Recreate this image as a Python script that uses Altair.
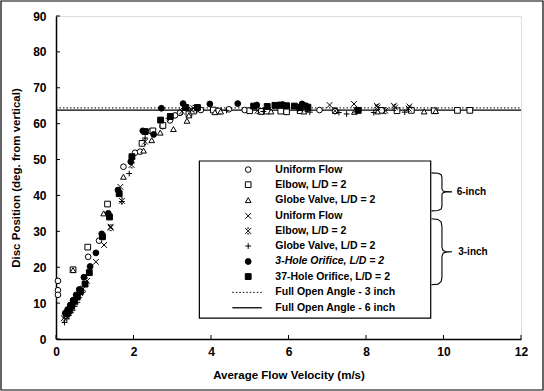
import altair as alt
import pandas as pd

# ---------------- data ----------------
u6_x = [0.05, 0.05, 0.05, 0.83, 1.11, 1.74, 2.04, 2.17, 2.45, 2.75, 2.94, 3.07, 3.2, 3.6, 3.74, 4.46, 4.87, 5.35, 5.9, 6.4, 6.8, 7.2]
u6_y = [16.2, 13.6, 12.3, 22.9, 27.4, 48.0, 51.9, 52.2, 57.9, 59.3, 60.9, 62.3, 63.0, 63.8, 63.8, 64.0, 63.8, 63.6, 63.6, 63.7, 63.8, 63.5]

e6_x = [0.44, 0.82, 1.33, 2.22, 2.5, 2.76, 3.43, 3.55, 4.06, 4.2, 5.0, 5.3, 5.45, 5.8, 5.95, 6.3, 8.4, 8.8, 9.17, 9.76, 10.36, 10.68]
e6_y = [19.3, 25.6, 37.6, 54.5, 58.0, 59.5, 62.7, 63.5, 63.8, 63.5, 63.6, 63.4, 63.5, 63.5, 63.3, 63.6, 63.7, 63.6, 63.7, 63.6, 63.7, 63.7]

g6_x = [0.44, 1.23, 1.74, 2.26, 2.47, 2.69, 3.03, 3.38, 3.43, 4.1, 4.25, 5.55, 6.4, 7.7, 8.3, 9.5, 9.8]
g6_y = [19.2, 35.0, 45.2, 52.5, 55.4, 57.5, 58.5, 60.8, 62.3, 63.2, 63.4, 63.4, 63.4, 63.3, 63.4, 63.4, 63.5]

u3_x = [1.03, 1.24, 1.41, 1.66, 1.95, 2.95, 3.5, 6.3, 7.06, 7.69, 8.28, 8.72, 9.12]
u3_y = [21.5, 26.2, 31.3, 42.4, 49.8, 61.8, 63.8, 64.0, 65.2, 65.5, 65.0, 65.0, 64.8]

e3_x = [0.2, 0.25, 0.3, 0.35, 0.4, 0.45, 0.5, 0.55, 0.62, 0.7, 0.8, 1.41, 1.7, 1.95, 2.3, 3.25, 3.55, 5.2, 6.5, 7.2, 7.75, 8.3, 8.5, 8.75, 9.1]
e3_y = [5.8, 6.5, 7.3, 8.2, 9.0, 9.8, 10.8, 11.6, 12.8, 14.0, 16.2, 31.0, 38.5, 48.5, 55.0, 63.4, 64.3, 63.6, 64.2, 63.6, 63.8, 64.5, 63.6, 64.5, 64.2]

g3_x = [0.22, 0.28, 0.33, 0.38, 0.43, 0.48, 0.55, 0.6, 0.68, 1.7, 1.89, 2.3, 2.9, 4.4, 5.35, 6.55, 7.3, 7.5, 8.2, 9.0]
g3_y = [4.6, 5.6, 6.5, 7.3, 8.0, 9.1, 10.2, 11.5, 13.0, 38.3, 46.1, 56.0, 61.5, 63.7, 63.4, 63.2, 63.1, 62.7, 63.1, 63.2]

h3_x = [0.24, 0.3, 0.37, 0.44, 0.52, 0.6, 0.72, 0.88, 1.03, 1.18, 1.35, 1.6, 1.93, 2.24, 2.52, 2.72, 3.28, 3.97, 4.69, 5.18, 5.85, 6.35, 6.45]
h3_y = [7.2, 8.2, 9.5, 10.8, 12.3, 13.8, 17.2, 20.2, 24.0, 29.3, 35.0, 41.5, 49.4, 58.0, 57.0, 64.3, 65.6, 65.5, 65.6, 65.2, 65.3, 65.5, 65.0]

h37_x = [0.27, 0.32, 0.4, 0.47, 0.55, 0.63, 0.75, 0.86, 1.2, 1.38, 1.63, 1.96, 2.3, 2.7, 2.95, 3.35, 3.65, 5.1, 5.45, 5.65, 5.8, 5.95, 6.15, 6.3, 6.5, 7.8]
h37_y = [7.0, 7.8, 9.2, 10.5, 11.8, 13.2, 15.3, 18.5, 28.5, 34.0, 40.5, 50.8, 57.8, 61.0, 62.0, 64.5, 64.5, 64.9, 64.8, 65.1, 65.2, 65.0, 64.9, 64.5, 64.6, 63.7]

series_keys = ["U6", "E6", "G6", "U3", "E3", "G3", "H3", "H37"]
series_x = [u6_x, e6_x, g6_x, u3_x, e3_x, g3_x, h3_x, h37_x]
series_y = [u6_y, e6_y, g6_y, u3_y, e3_y, g3_y, h3_y, h37_y]

legend_labels = ["Uniform Flow", "Elbow, L/D = 2", "Globe Valve, L/D = 2",
                 "Uniform Flow", "Elbow, L/D = 2", "Globe Valve, L/D = 2",
                 "3-Hole Orifice, L/D = 2", "37-Hole Orifice, L/D = 2",
                 "Full Open Angle - 3 inch", "Full Open Angle - 6 inch"]
legend_rows_y = [47.2, 43.0, 38.7, 34.3, 30.1, 25.9, 21.6, 17.4, 13.0, 8.7]

full_open_3in = 64.4
full_open_6in = 63.8

x_ticks = [0, 2, 4, 6, 8, 10, 12]
y_ticks = [0, 10, 20, 30, 40, 50, 60, 70, 80, 90]

# ---------------- tables ----------------
rows = []
for k, xs_, ys_ in zip(series_keys, series_x, series_y):
    for a, b in zip(xs_, ys_):
        rows.append({"series": k, "x": a, "y": b})
pts = pd.DataFrame(rows)

leg = pd.DataFrame({"series": series_keys, "y": legend_rows_y[:8], "x": [4.96] * 8})
leg_text = pd.DataFrame({"label": legend_labels, "y": legend_rows_y, "x": [5.66] * 10,
                         "italic": [False] * 6 + [True] + [False] * 3})

X_PATH = "M-1,-1L1,1M1,-1L-1,1"
XBAR_PATH = "M-1,-1L1,1M1,-1L-1,1M-0.35,-1L0.35,-1M-0.35,1L0.35,1"
PLUS_PATH = "M-1,0L1,0M0,-1L0,1"

shape_scale = alt.Scale(domain=series_keys,
                        range=["circle", "square", "triangle-up", X_PATH, XBAR_PATH, PLUS_PATH, "circle", "square"])
fill_scale = alt.Scale(domain=series_keys,
                       range=["white", "white", "white", "black", "black", "black", "black", "black"])
size_scale = alt.Scale(domain=series_keys, range=[32, 34, 28, 26, 30, 30, 36, 30])

W, H = 465, 323
xs = alt.Scale(domain=[0, 12], nice=False, zero=False)
ys = alt.Scale(domain=[0, 90], nice=False, zero=False)

FONT = "Liberation Sans"

axis_common = dict(labelFontWeight="bold", labelFontSize=12, titleFontWeight="bold", titleFontSize=11.5,
                   ticks=False, grid=False, domainColor="black", domainWidth=1.5,
                   labelColor="black", titleColor="black", labelFont=FONT, titleFont=FONT,
                   labelOverlap=False, labelFlush=False, labelBound=False)

X_AXIS = alt.Axis(values=x_ticks, title="Average Flow Velocity (m/s)", labelPadding=7, titlePadding=12, **axis_common)
Y_AXIS = alt.Axis(values=y_ticks, title="Disc Position (deg. from vertical)", labelPadding=10, titlePadding=11,
                  **axis_common)


def X(f="x:Q"):
    return alt.X(f, scale=xs, axis=X_AXIS)


def Y(f="y:Q"):
    return alt.Y(f, scale=ys, axis=Y_AXIS)


# reference lines
href = pd.DataFrame({"y": [full_open_3in, full_open_6in], "x": [0, 0], "x2": [12, 12], "kind": ["3in", "6in"]})
line3 = alt.Chart(href[href.kind == "3in"]).mark_rule(color="black", strokeDash=[1.5, 2], strokeWidth=1).encode(
    x=X(), x2="x2:Q", y=Y())
line6 = alt.Chart(href[href.kind == "6in"]).mark_rule(color="black", strokeWidth=1.3).encode(
    x=X(), x2="x2:Q", y=Y())

points = alt.Chart(pts).mark_point(filled=False, stroke="black", strokeWidth=1, opacity=1).encode(
    x=X(), y=Y(),
    shape=alt.Shape("series:N", scale=shape_scale, legend=None),
    fill=alt.Fill("series:N", scale=fill_scale, legend=None),
    size=alt.Size("series:N", scale=size_scale, legend=None),
)

# inward ticks
xt = pd.DataFrame({"x": x_ticks})
yt = pd.DataFrame({"y": y_ticks})
xtick = alt.Chart(xt).mark_rule(color="black", strokeWidth=1).encode(
    x=X(), y=alt.value(H), y2=alt.value(H - 4))
ytick = alt.Chart(yt).mark_rule(color="black", strokeWidth=1).encode(
    y=Y(), x=alt.value(0), x2=alt.value(4))

# legend box
box = pd.DataFrame({"x": [3.70], "x2": [9.67], "y": [49.6], "y2": [5.8]})
legbox = alt.Chart(box).mark_rect(fill="white", stroke="black", strokeWidth=1.2).encode(
    x=X(), x2="x2:Q", y=Y(), y2="y2:Q")

legsym = alt.Chart(leg).mark_point(filled=False, stroke="black", strokeWidth=1, opacity=1).encode(
    x=X(), y=Y(),
    shape=alt.Shape("series:N", scale=shape_scale, legend=None),
    fill=alt.Fill("series:N", scale=fill_scale, legend=None),
    size=alt.Size("series:N", scale=size_scale, legend=None),
)

legtxt = alt.Chart(leg_text[~leg_text.italic]).mark_text(align="left", baseline="middle", font=FONT,
                                                         fontWeight="bold", fontSize=10.5, color="black").encode(
    x=X(), y=Y(), text="label:N")
legtxt_i = alt.Chart(leg_text[leg_text.italic]).mark_text(align="left", baseline="middle", font=FONT,
                                                          fontWeight="bold", fontStyle="italic", fontSize=10.5,
                                                          color="black").encode(
    x=X(), y=Y(), text="label:N")

leglines = pd.DataFrame({"x": [4.55, 4.55], "x2": [5.31, 5.31], "y": [legend_rows_y[8], legend_rows_y[9]]})
legl3 = alt.Chart(leglines.iloc[[0]]).mark_rule(color="black", strokeDash=[1.5, 2], strokeWidth=1).encode(
    x=X(), x2="x2:Q", y=Y())
legl6 = alt.Chart(leglines.iloc[[1]]).mark_rule(color="black", strokeWidth=1.3).encode(
    x=X(), x2="x2:Q", y=Y())


# braces
def brace(top, bot, name):
    h = top - bot
    px = [9.69, 9.86, 9.94, 9.96, 9.96, 9.99, 10.06, 10.22, 10.06, 9.99, 9.96, 9.96, 9.94, 9.86, 9.69]
    fr = [0, 0.01, 0.05, 0.12, 0.43, 0.48, 0.495, 0.5, 0.505, 0.52, 0.57, 0.88, 0.95, 0.99, 1.0]
    return pd.DataFrame({"x": px, "y": [top - f * h for f in fr], "o": list(range(len(px))), "b": name})


braces = pd.concat([brace(46.3, 35.7, "6"), brace(33.5, 15.1, "3")])
brace_lines = alt.Chart(braces).mark_line(color="black", strokeWidth=1.1).encode(
    x=X(), y=Y(), order="o:Q", detail="b:N")

brace_txt = pd.DataFrame({"x": [10.34, 10.38], "y": [41.0, 24.3], "t": ["6-inch", "3-inch"]})
brace_text = alt.Chart(brace_txt).mark_text(align="left", baseline="middle", font=FONT, fontWeight="bold",
                                            fontSize=10, color="black").encode(
    x=X(), y=Y(), text="t:N")

frame = alt.Chart(pd.DataFrame({"a": [0]})).mark_rect(fill=None, stroke="black", strokeWidth=1.2).encode(
    x=alt.value(-55), x2=alt.value(W + 22), y=alt.value(-15), y2=alt.value(H + 51))

chart = alt.layer(
    line3, line6, points, xtick, ytick, legbox, legsym, legtxt, legtxt_i, legl3, legl6,
    brace_lines, brace_text, frame
).properties(
    width=W, height=H,
    autosize=alt.AutoSizeParams(type="none"),
    padding={"left": 56, "top": 16, "right": 23, "bottom": 52},
).configure_view(
    stroke="black", strokeDash=[1.5, 2], strokeWidth=1
).configure(background="white")

chart.save("out.html", embed_options={"renderer": "svg", "actions": False})
